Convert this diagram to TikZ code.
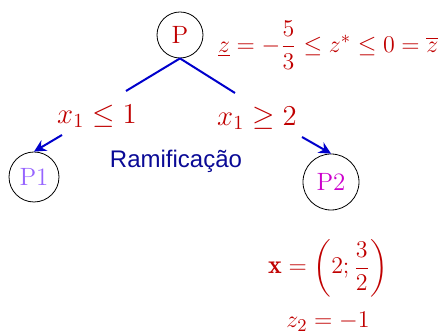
\documentclass[tikz,border=0pt]{standalone}
\usepackage{fontspec}
\usepackage{amsmath}
\newfontfamily\arialfont{Liberation Sans}
\usetikzlibrary{arrows.meta}
\definecolor{vermelho}{RGB}{192,0,0}
\definecolor{azul}{RGB}{0,0,204}
\definecolor{azulescuro}{RGB}{10,10,150}
\definecolor{lilas}{RGB}{150,100,255}
\definecolor{magenta2}{RGB}{204,0,204}
\tikzset{
  subprob/.style={draw,circle,inner sep=0pt,line width=0.4pt},
  ramo/.style={azul,line width=1pt},
  rotulo/.style={vermelho,font=\fontsize{13}{15}\selectfont}
}

\begin{document}
\begin{tikzpicture}[x=0.5pt,y=-0.5pt]
				\useasboundingbox (0,0) rectangle (441,335);
				\node[subprob,minimum size=23pt,vermelho,draw=black,font=\fontsize{12.5}{14}\selectfont] (P) at (180,35) {P};
				\node[subprob,minimum size=25pt,lilas,draw=black,font=\fontsize{12.5}{14}\selectfont] (P1) at (34,177) {P1};
				\node[subprob,minimum size=28pt,magenta2,draw=black,font=\fontsize{12.5}{14}\selectfont] (P2) at (331,182) {P2};
				\node[rotulo,anchor=west] (zlim) at (211,45) {$\underline{z}=-\dfrac{5}{3}\leq z^{*}\leq 0=\overline{z}$};
				\node[rotulo,font=\fontsize{14}{16}\selectfont] (esq) at (97,116) {$x_1\leq 1$};
				\node[rotulo,font=\fontsize{14}{16}\selectfont] (dir) at (257,118) {$x_1\geq 2$};
				\node[azulescuro,font=\arialfont\fontsize{12}{14}\selectfont] (ramif) at (176,161) {Ramificação};
				\coordinate (e1) at (126,91);
				\coordinate (d1) at (235,93);
				\coordinate (e2) at (62,135);
				\coordinate (d2) at (302,137);
				\draw[ramo] (P.south) -- (e1);
				\draw[ramo] (P.south) -- (d1);
				\draw[ramo,-{Stealth[length=6pt,width=6pt]}] (e2) -- (P1.north);
				\draw[ramo,-{Stealth[length=6pt,width=6pt]}] (d2) -- (P2.north);
				\node[rotulo] (sol) at (328,268) {$\mathbf{x}=\left(2;\dfrac{3}{2}\right)$};
				\node[rotulo] (z2) at (328,322) {$z_2=-1$};
			\end{tikzpicture}
\end{document}
